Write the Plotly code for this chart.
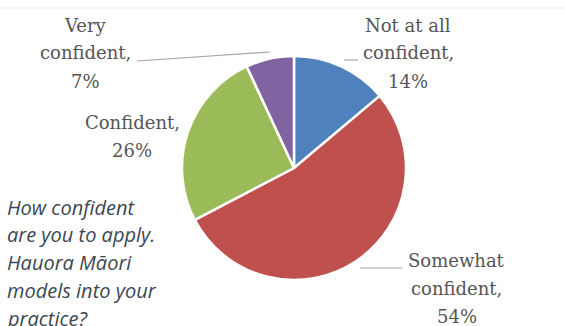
import plotly.graph_objects as go

W, H = 565, 326

categories = ["Not at all confident", "Somewhat confident", "Confident", "Very confident"]
label_lines = [["Not at all", "confident,"], ["Somewhat", "confident,"], ["Confident,"], ["Very", "confident,"]]
percents = [14, 54, 26, 7]
colors = ["#4f81bd", "#c0504d", "#9bbb59", "#8064a2"]
question_lines = ["How confident", "are you to apply.", "Hauora Māori", "models into your", "practice?"]

# label layout (pixels): centre x, y of first line
label_pos = [(408, 25), (457, 260), (132, 122), (85, 25)]
line_step = 28
question_pos_x = 5
question_pos_y = [207, 235, 262, 290, 318]

def px(x):
    return x / W

def py(y):
    return 1 - y / H

cx, cy, r = 294, 168, 112

fig = go.Figure()
fig.add_trace(go.Pie(
    labels=categories,
    values=percents,
    sort=False,
    direction="clockwise",
    rotation=0,
    textinfo="none",
    hoverinfo="skip",
    marker=dict(colors=colors, line=dict(color="white", width=2.5)),
    domain=dict(x=[px(cx - r), px(cx + r)], y=[py(cy + r), py(cy - r)]),
    showlegend=False,
))

annotations = []
for lines, pct, (x, y) in zip(label_lines, percents, label_pos):
    all_lines = lines + [f"{pct}%"]
    for i, t in enumerate(all_lines):
        annotations.append(dict(
            text=t, x=px(x), y=py(y + i * line_step), xref="paper", yref="paper",
            xanchor="center", yanchor="middle", showarrow=False, align="center",
            font=dict(family="DejaVu Serif", size=18, color="#555555"),
        ))
for line, y in zip(question_lines, question_pos_y):
    annotations.append(dict(
        text=f"<i>{line}</i>", x=px(question_pos_x), y=py(y), xref="paper", yref="paper",
        xanchor="left", yanchor="middle", showarrow=False, align="left",
        font=dict(family="Open Sans", size=20, color="#3b4752"),
    ))

leaders = [((137, 61), (270, 52)), ((344, 60), (358, 60)), ((360, 268), (402, 268))]
shapes = []
for (x0, y0), (x1, y1) in leaders:
    shapes.append(dict(type="line", xref="paper", yref="paper",
                       x0=px(x0), y0=py(y0), x1=px(x1), y1=py(y1),
                       line=dict(color="#a6a6a6", width=1.2)))
shapes.append(dict(type="line", xref="paper", yref="paper", x0=0, x1=1, y0=py(8), y1=py(8),
                   line=dict(color="#f0f0f0", width=1)))

fig.update_layout(
    width=W, height=H,
    margin=dict(l=0, r=0, t=0, b=0),
    paper_bgcolor="white", plot_bgcolor="white",
    annotations=annotations, shapes=shapes,
)

fig.write_html("out.html", config={"displayModeBar": False})
with open("out.html", encoding="utf-8") as f:
    html = f.read()
html = html.replace("<body>", '<body style="margin:0;padding:0;overflow:hidden">', 1)
with open("out.html", "w", encoding="utf-8") as f:
    f.write(html)
